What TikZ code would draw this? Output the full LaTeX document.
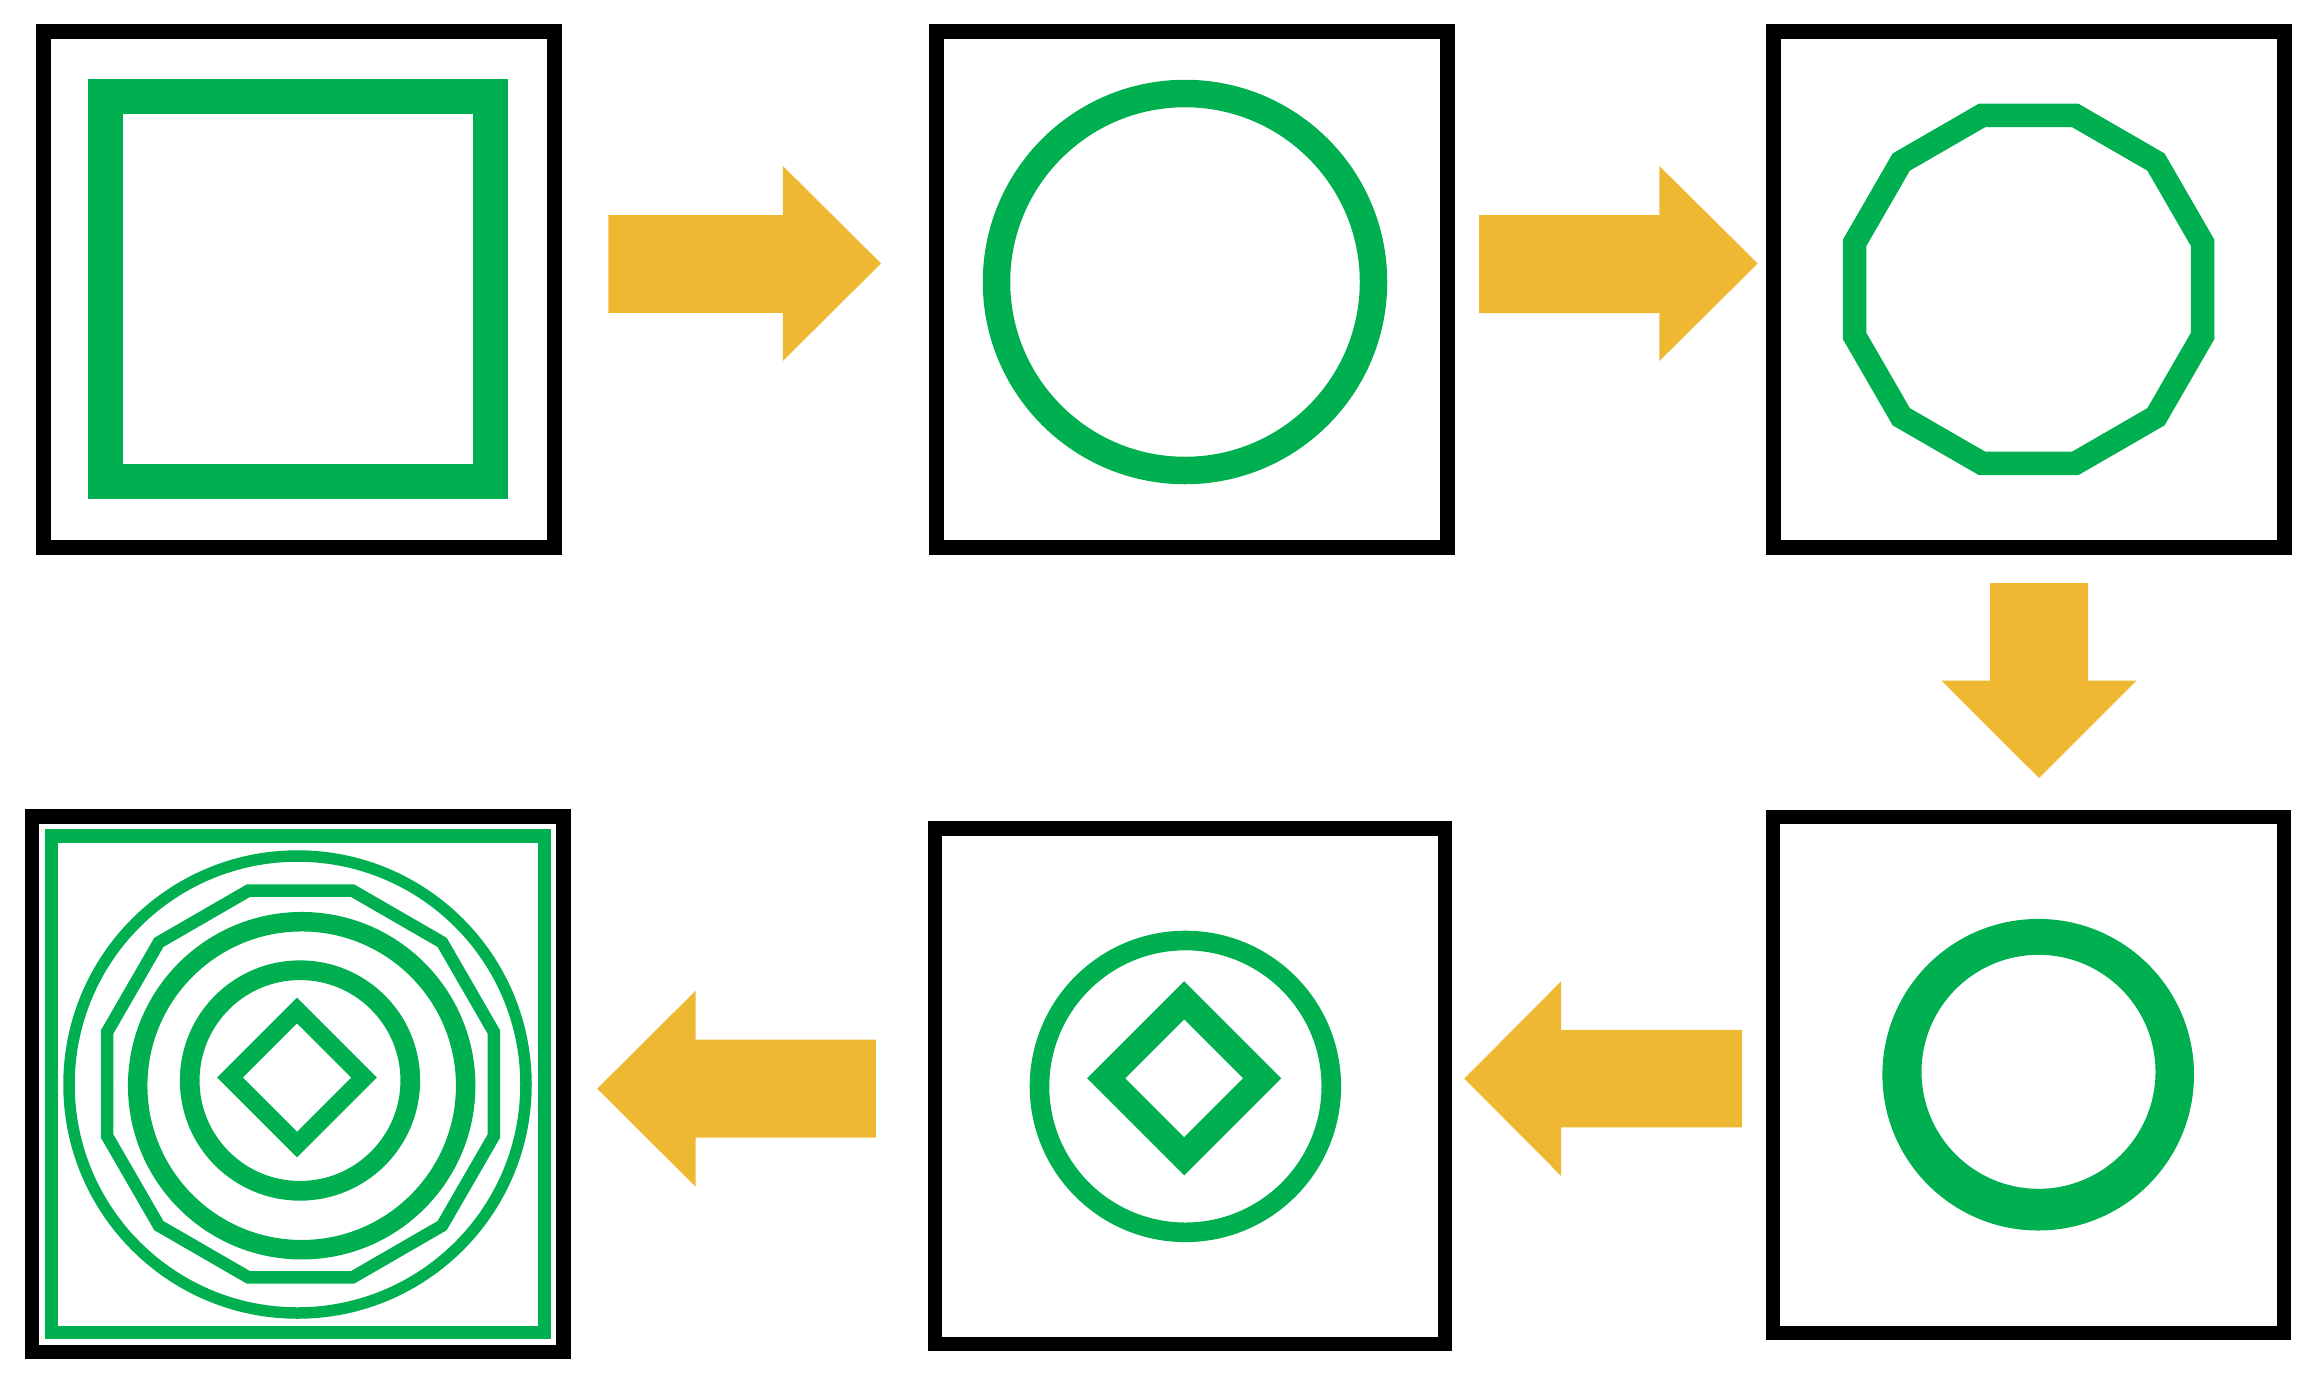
\documentclass[tikz,border=0pt]{standalone}
\usepackage{tikz}
\usepackage{xcolor}

\definecolor{shapegreen}{RGB}{0,176,80}
\definecolor{arrowgold}{RGB}{238,184,51}

\tikzset{
  frame/.style={draw=black,line width=7.5pt},
  shapeline/.style={draw=shapegreen},
  blockarrow/.style={fill=arrowgold,draw opacity=0},
}

\begin{document}
\begin{tikzpicture}[x=0.5pt,y=0.5pt,yscale=-1,xscale=1]
		\useasboundingbox (0,0) rectangle (2318,1377);

		%Shape: Rectangle [box 1]
		\draw [frame] (43.5,31.5) rectangle (554.5,547.5) ;
		%Shape: Rectangle
		\draw [shapeline,line width=17.5pt] (105.7,96) rectangle (490.4,481.6) ;

		%Shape: Right Arrow [box 1 to box 2]
		\fill [blockarrow] (608.3,215) -- (782.8,215) -- (782.8,165.9) -- (881,263.4) -- (782.8,361) -- (782.8,312.9) -- (608.3,312.9) -- cycle ;

		%Shape: Rectangle [box 2]
		\draw [frame] (936.5,31.5) rectangle (1447.3,547.5) ;
		%Shape: Circle
		\draw [shapeline,line width=13.75pt] (1185,282) circle [radius=188.5] ;

		%Shape: Right Arrow [box 2 to box 3]
		\fill [blockarrow] (1479,215) -- (1659.4,215) -- (1659.4,166) -- (1757.7,263.5) -- (1659.4,361) -- (1659.4,313) -- (1479,313) -- cycle ;

		%Shape: Rectangle [box 3]
		\draw [frame] (1773.2,31.5) rectangle (2284,547.5) ;
		%Shape: Polygon (12 sides)
		\draw [shapeline,line width=11.75pt,shift={(2028.6,289.4)}] (15:180.1) \foreach \a in {45,75,...,345} { -- (\a:180.1) } -- cycle ;

		%Shape: Down Arrow [box 3 to box 6]
		\fill [blockarrow] (1990,583.2) -- (2088,583.2) -- (2088,680.6) -- (2136.5,680.6) -- (2039,778) -- (1941.5,680.6) -- (1990,680.6) -- cycle ;

		%Shape: Rectangle [box 6]
		\draw [frame,line width=7.25pt] (1773.2,817.2) rectangle (2284,1333.1) ;
		%Shape: Ring
		\fill [shapegreen,even odd rule] (2038.2,1074.7) circle [radius=155.8] (2038.5,1071.8) circle [radius=117] ;

		%Shape: Left Arrow [box 6 to box 5]
		\fill [blockarrow] (1742.2,1029.9) -- (1561.1,1029.9) -- (1561.1,981.3) -- (1464.3,1078.6) -- (1561.1,1175.9) -- (1561.1,1127.3) -- (1742.2,1127.3) -- cycle ;

		%Shape: Rectangle [box 5]
		\draw [frame,line width=7.25pt] (934.8,828.6) rectangle (1445,1344) ;
		%Shape: Circle
		\draw [shapeline,line width=9.8pt] (1185.4,1086.4) circle [radius=145.9] ;
		%Shape: Diamond
		\draw [shapeline,line width=13.5pt] (1184.2,1000.3) -- (1262.2,1078.3) -- (1184.2,1156.3) -- (1106.2,1078.3) -- cycle ;

		%Shape: Left Arrow [box 5 to box 4]
		\fill [blockarrow] (875.9,1039.7) -- (695.5,1039.7) -- (695.5,990.8) -- (597.2,1088.7) -- (695.5,1186.6) -- (695.5,1137.7) -- (875.9,1137.7) -- cycle ;

		%Shape: Rectangle [box 4]
		\draw [frame,line width=7.25pt] (31.8,816.5) rectangle (563.6,1352) ;
		%Shape: Rectangle
		\draw [shapeline,line width=6.65pt] (51.4,836) rectangle (544.4,1332.2) ;
		%Shape: Circle
		\draw [shapeline,line width=5.75pt] (297.5,1084.5) circle [radius=228.5] ;
		%Shape: Polygon (12 sides)
		\draw [shapeline,line width=6.25pt,shift={(300.5,1084)}] (15:200.3) \foreach \a in {45,75,...,345} { -- (\a:200.3) } -- cycle ;
		%Shape: Circle
		\draw [shapeline,line width=9.75pt] (301.7,1085.7) circle [radius=164] ;
		%Shape: Circle
		\draw [shapeline,line width=9.85pt] (300,1080.5) circle [radius=110.3] ;
		%Shape: Diamond
		\draw [shapeline,line width=9.1pt] (297,1010.4) -- (364.1,1077.5) -- (297,1144.6) -- (229.9,1077.5) -- cycle ;

\end{tikzpicture}
\end{document}
